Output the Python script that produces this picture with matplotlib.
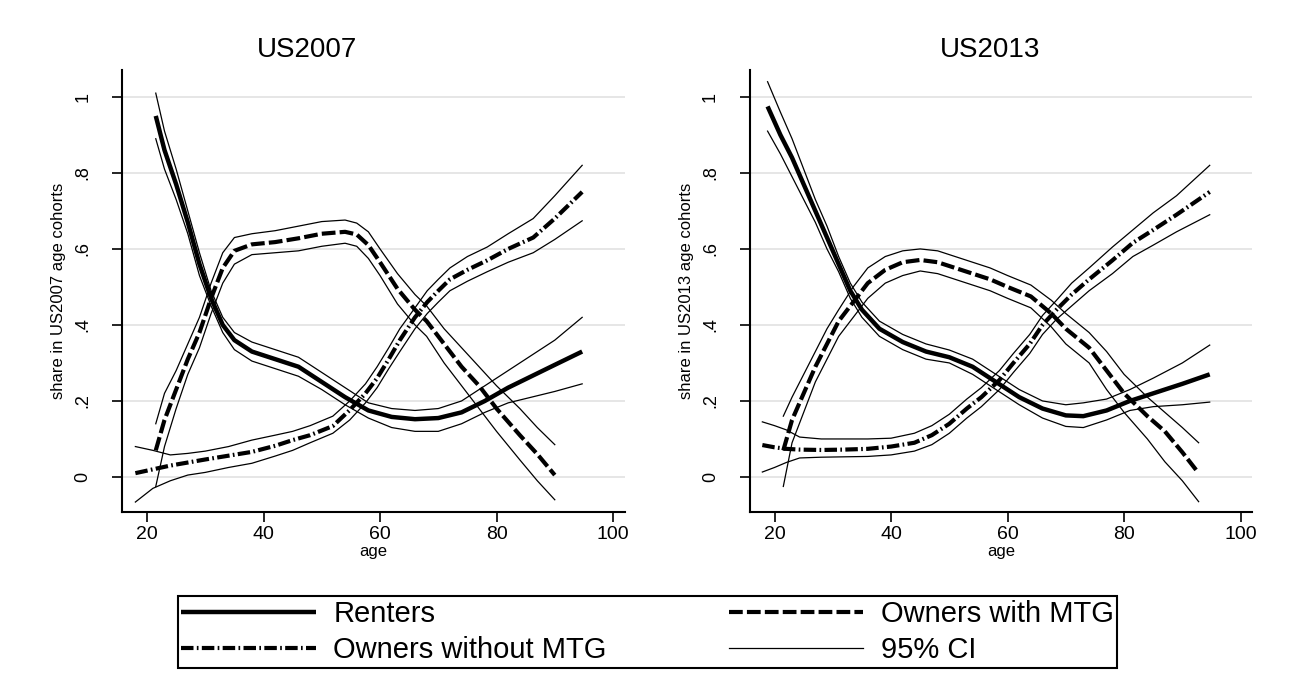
import matplotlib
matplotlib.use("Agg")
import matplotlib.pyplot as plt
from matplotlib.lines import Line2D

plt.rcParams["font.family"] = ["Liberation Sans", "DejaVu Sans"]

# ---- US2007 ----
age_rent_07 = [21.5, 23, 25, 27, 29, 31, 33, 35, 38, 42, 46, 50, 54, 58, 62, 66, 70, 74, 78, 82, 86, 90, 94.7]
rent_07 = [0.95, 0.86, 0.77, 0.67, 0.56, 0.47, 0.40, 0.36, 0.33, 0.31, 0.29, 0.25, 0.21, 0.175, 0.158, 0.152,
           0.155, 0.17, 0.20, 0.235, 0.265, 0.295, 0.33]
rent_07_hi = [1.01, 0.91, 0.81, 0.70, 0.59, 0.49, 0.42, 0.38, 0.355, 0.335, 0.315, 0.275, 0.235, 0.195, 0.18,
              0.175, 0.18, 0.20, 0.24, 0.28, 0.32, 0.36, 0.42]
rent_07_lo = [0.89, 0.81, 0.73, 0.64, 0.53, 0.45, 0.38, 0.335, 0.305, 0.285, 0.265, 0.23, 0.19, 0.155, 0.13,
              0.12, 0.12, 0.14, 0.17, 0.195, 0.21, 0.225, 0.245]

age_mtg_07 = [21.5, 23, 25, 27, 29, 31, 33, 35, 38, 42, 46, 50, 54, 56, 58, 60, 63, 66, 68, 71, 74, 77, 80, 84, 87, 90]
mtg_07 = [0.07, 0.15, 0.23, 0.31, 0.38, 0.47, 0.55, 0.595, 0.612, 0.618, 0.628, 0.64, 0.645, 0.638, 0.61, 0.565,
          0.495, 0.44, 0.41, 0.35, 0.29, 0.24, 0.18, 0.11, 0.06, 0.005]
mtg_07_hi = [0.14, 0.22, 0.28, 0.35, 0.42, 0.51, 0.59, 0.63, 0.64, 0.648, 0.66, 0.672, 0.676, 0.668, 0.645, 0.60,
             0.535, 0.48, 0.45, 0.39, 0.34, 0.29, 0.24, 0.18, 0.13, 0.085]
mtg_07_lo = [-0.025, 0.08, 0.18, 0.27, 0.34, 0.43, 0.51, 0.56, 0.585, 0.59, 0.595, 0.607, 0.615, 0.607, 0.575,
             0.53, 0.455, 0.40, 0.37, 0.30, 0.24, 0.18, 0.12, 0.045, -0.01, -0.06]

age_own_07 = [18, 21, 24, 27, 30, 34, 38, 42, 45, 48, 51.9, 54.8, 57.5, 59.5, 61.5, 63.4, 66, 68.1, 70, 72, 75,
              78.4, 82, 86.3, 90, 94.7]
own_07 = [0.01, 0.02, 0.03, 0.038, 0.046, 0.056, 0.066, 0.082, 0.097, 0.11, 0.134, 0.176, 0.22, 0.26, 0.31, 0.36,
          0.42, 0.46, 0.49, 0.52, 0.545, 0.57, 0.60, 0.63, 0.68, 0.75]
own_07_hi = [0.08, 0.07, 0.058, 0.062, 0.068, 0.08, 0.097, 0.11, 0.12, 0.135, 0.16, 0.20, 0.245, 0.29, 0.34, 0.39,
             0.445, 0.49, 0.52, 0.55, 0.58, 0.605, 0.64, 0.68, 0.74, 0.82]
own_07_lo = [-0.066, -0.03, -0.01, 0.005, 0.012, 0.025, 0.036, 0.055, 0.07, 0.09, 0.115, 0.15, 0.195, 0.235,
             0.285, 0.33, 0.39, 0.43, 0.46, 0.49, 0.515, 0.54, 0.565, 0.59, 0.625, 0.674]

# ---- US2013 ----
age_rent_13 = [18.8, 21, 23, 25, 27, 29, 31, 33, 35, 38, 42, 46, 50, 54, 58, 62, 66, 70, 73, 77, 81, 85, 90, 94.7]
rent_13 = [0.975, 0.90, 0.84, 0.77, 0.70, 0.63, 0.56, 0.49, 0.44, 0.39, 0.355, 0.33, 0.315, 0.29, 0.25, 0.21,
           0.18, 0.162, 0.16, 0.175, 0.20, 0.22, 0.245, 0.27]
rent_13_hi = [1.04, 0.96, 0.89, 0.81, 0.73, 0.66, 0.58, 0.51, 0.46, 0.41, 0.375, 0.35, 0.334, 0.31, 0.27, 0.23,
              0.20, 0.19, 0.195, 0.205, 0.23, 0.26, 0.30, 0.347]
rent_13_lo = [0.91, 0.85, 0.79, 0.73, 0.67, 0.60, 0.54, 0.47, 0.42, 0.37, 0.335, 0.31, 0.30, 0.27, 0.23, 0.19,
              0.155, 0.133, 0.13, 0.15, 0.175, 0.185, 0.19, 0.197]

age_mtg_13 = [21.5, 23, 25, 27, 29, 31, 33.5, 36, 39, 42, 45, 48, 51, 54, 57, 60, 64, 67.5, 70, 74, 77, 80, 84,
              87, 90, 92.8]
mtg_13 = [0.07, 0.15, 0.22, 0.29, 0.35, 0.41, 0.46, 0.51, 0.545, 0.565, 0.571, 0.565, 0.55, 0.535, 0.52, 0.50,
          0.475, 0.43, 0.39, 0.34, 0.28, 0.22, 0.16, 0.12, 0.065, 0.01]
mtg_13_hi = [0.16, 0.21, 0.27, 0.33, 0.39, 0.44, 0.50, 0.55, 0.58, 0.595, 0.60, 0.595, 0.58, 0.565, 0.55, 0.53,
             0.505, 0.465, 0.43, 0.38, 0.33, 0.27, 0.21, 0.17, 0.13, 0.09]
mtg_13_lo = [-0.025, 0.09, 0.17, 0.25, 0.31, 0.37, 0.42, 0.47, 0.51, 0.53, 0.542, 0.535, 0.52, 0.505, 0.49, 0.47,
             0.445, 0.395, 0.35, 0.30, 0.23, 0.17, 0.10, 0.04, -0.01, -0.065]

age_own_13 = [17.9, 20, 22, 24.3, 28, 32, 36, 40, 44, 47, 50, 53, 55.5, 58.6, 61, 63.8, 66, 68.4, 71, 74, 78,
              81.5, 85, 89, 94.7]
own_13 = [0.084, 0.078, 0.074, 0.072, 0.071, 0.072, 0.074, 0.08, 0.09, 0.11, 0.14, 0.18, 0.21, 0.255, 0.30, 0.35,
          0.40, 0.44, 0.48, 0.52, 0.57, 0.616, 0.65, 0.69, 0.75]
own_13_hi = [0.145, 0.135, 0.124, 0.105, 0.10, 0.10, 0.10, 0.102, 0.115, 0.135, 0.165, 0.205, 0.235, 0.28, 0.325,
             0.375, 0.425, 0.465, 0.51, 0.55, 0.605, 0.65, 0.695, 0.74, 0.82]
own_13_lo = [0.013, 0.025, 0.038, 0.05, 0.052, 0.053, 0.054, 0.058, 0.068, 0.085, 0.115, 0.155, 0.185, 0.23,
             0.275, 0.325, 0.375, 0.415, 0.45, 0.49, 0.535, 0.58, 0.61, 0.645, 0.69]

yticks = [0, 0.2, 0.4, 0.6, 0.8, 1]
ytick_labels = ["0", ".2", ".4", ".6", ".8", "1"]
xticks = [20, 40, 60, 80, 100]

styles = {
    "rent": dict(color="black", lw=3.2, solid_capstyle="butt"),
    "mtg": dict(color="black", lw=3.0, dashes=(3.3, 1.0)),
    "own": dict(color="black", lw=3.0, dashes=(3.0, 0.8, 0.4, 0.8)),
    "ci": dict(color="black", lw=0.9),
}

panels = [
    ("US2007", [0.0939, 0.257, 0.387, 0.6415], 0.2365,
     [(age_rent_07, rent_07, rent_07_lo, rent_07_hi, "rent"),
      (age_mtg_07, mtg_07, mtg_07_lo, mtg_07_hi, "mtg"),
      (age_own_07, own_07, own_07_lo, own_07_hi, "own")]),
    ("US2013", [0.577, 0.257, 0.387, 0.6415], 0.762,
     [(age_rent_13, rent_13, rent_13_lo, rent_13_hi, "rent"),
      (age_mtg_13, mtg_13, mtg_13_lo, mtg_13_hi, "mtg"),
      (age_own_13, own_13, own_13_lo, own_13_hi, "own")]),
]

fig = plt.figure(figsize=(12.99, 6.89), dpi=100)

for title, pos, title_x, series in panels:
    ax = fig.add_axes(pos)
    for age, mid, lo, hi, key in series:
        ax.plot(age, lo, **styles["ci"])
        ax.plot(age, hi, **styles["ci"])
        ax.plot(age, mid, **styles[key])
    ax.set_xlim(15.7, 102)
    ax.set_ylim(-0.092, 1.071)
    ax.set_yticks(yticks)
    ax.set_yticklabels(ytick_labels, rotation=90, va="center", fontsize=13)
    ax.set_xticks(xticks)
    ax.tick_params(axis="x", labelsize=14, length=7, width=1.2, pad=3)
    ax.tick_params(axis="y", length=7, width=1.2, pad=15)
    ax.grid(axis="y", color="#e4e4e4", lw=1.3)
    ax.set_axisbelow(True)
    for s in ["top", "right"]:
        ax.spines[s].set_visible(False)
    for s in ["left", "bottom"]:
        ax.spines[s].set_linewidth(1.5)
    ax.set_xlabel("age", fontsize=12, labelpad=1)
    ax.set_ylabel("share in " + title + " age cohorts", fontsize=12, labelpad=6)
    fig.text(title_x, 0.927, title, fontsize=20, ha="center", va="center")

handles = [
    Line2D([], [], **styles["rent"]),
    Line2D([], [], **styles["own"]),
    Line2D([], [], **styles["mtg"]),
    Line2D([], [], **styles["ci"]),
]
labels = ["Renters", "Owners without MTG", "Owners with MTG", "95% CI"]
leg = fig.legend(handles, labels, ncol=2, loc="lower left",
                 bbox_to_anchor=(0.137, 0.0305, 0.723, 0.109), mode="expand",
                 fontsize=21, handlelength=4.6, handletextpad=0.6, labelspacing=0.3,
                 borderpad=0.12, fancybox=False, framealpha=1, borderaxespad=0)
leg.get_frame().set_edgecolor("black")
leg.get_frame().set_linewidth(1.5)

fig.savefig("out.png", dpi=100, facecolor="white")
